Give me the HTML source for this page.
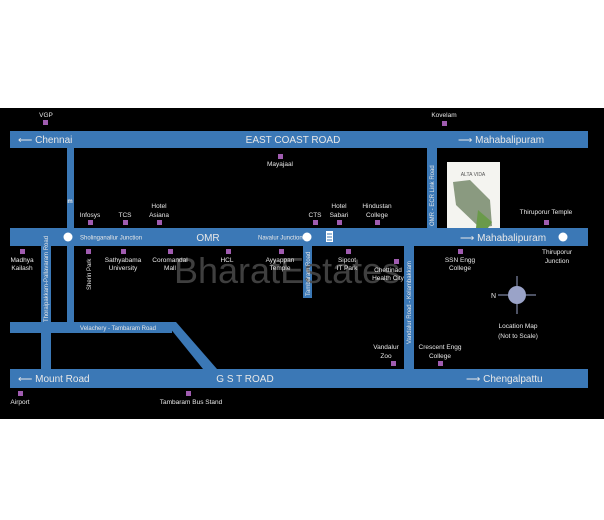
<!DOCTYPE html>
<html><head><meta charset="utf-8"><style>
html,body{margin:0;padding:0;background:#fff;}
svg{display:block;}
text{font-family:"Liberation Sans",sans-serif;fill:#e8e8e8;}
</style></head><body>
<svg width="604" height="520" viewBox="0 0 604 520" xmlns="http://www.w3.org/2000/svg">
<rect x="0" y="0" width="604" height="520" fill="#fff"/>
<rect x="0" y="108" width="604" height="311" fill="#000"/>
<g fill="#3b78b6">
<rect x="10" y="131" width="578" height="17"/>
<rect x="10" y="228" width="578" height="18"/>
<rect x="10" y="369" width="578" height="19"/>
<rect x="67" y="148" width="7" height="174"/>
<rect x="10" y="322" width="162" height="11"/>
<polygon points="165,322 176,322 217,369 203,369"/>
<rect x="41" y="246" width="10" height="123"/>
<rect x="427" y="148" width="10" height="80"/>
<rect x="303" y="246" width="9" height="52"/>
<rect x="404" y="246" width="10" height="123"/>
</g>
<!-- image -->
<rect x="447" y="162" width="53" height="66" fill="#f4f4f0"/>
<text x="473" y="176" font-size="5" text-anchor="middle" fill="#444" style="fill:#555">ALTA VIDA</text>
<polygon points="453,182 470,180 490,200 492,226 480,228 456,205" fill="#8a9a80"/>
<polygon points="478,210 492,222 488,228 476,228" fill="#6a9a4a"/>
<!-- watermark -->
<text x="174" y="283" font-size="36" style="fill:#4a4a4a" opacity="0.85">BharatEstates</text>
<!-- purple squares -->
<g fill="#a05cb0">
<rect x="43" y="120" width="5" height="5"/>
<rect x="278" y="154" width="5" height="5"/>
<rect x="442" y="121" width="5" height="5"/>
<rect x="88" y="220" width="5" height="5"/>
<rect x="123" y="220" width="5" height="5"/>
<rect x="157" y="220" width="5" height="5"/>
<rect x="313" y="220" width="5" height="5"/>
<rect x="337" y="220" width="5" height="5"/>
<rect x="375" y="220" width="5" height="5"/>
<rect x="544" y="220" width="5" height="5"/>
<rect x="20" y="249" width="5" height="5"/>
<rect x="86" y="249" width="5" height="5"/>
<rect x="121" y="249" width="5" height="5"/>
<rect x="168" y="249" width="5" height="5"/>
<rect x="226" y="249" width="5" height="5"/>
<rect x="279" y="249" width="5" height="5"/>
<rect x="346" y="249" width="5" height="5"/>
<rect x="394" y="259" width="5" height="5"/>
<rect x="458" y="249" width="5" height="5"/>
<rect x="391" y="361" width="5" height="5"/>
<rect x="438" y="361" width="5" height="5"/>
<rect x="18" y="391" width="5" height="5"/>
<rect x="186" y="391" width="5" height="5"/>
</g>
<!-- circles -->
<g fill="#fff">
<circle cx="68" cy="237" r="4.5"/>
<circle cx="307" cy="237" r="4.5"/>
<circle cx="563" cy="237" r="4.5"/>
</g>
<rect x="326" y="231" width="7" height="11" fill="#fff"/>
<g stroke="#3b78b6" stroke-width="1"><line x1="327" y1="234" x2="332" y2="234"/><line x1="327" y1="237" x2="332" y2="237"/><line x1="327" y1="240" x2="332" y2="240"/></g>
<text x="70" y="203" font-size="6" font-weight="bold" text-anchor="middle">m</text>
<!-- road labels -->
<text x="18" y="143" font-size="10">⟵ Chennai</text>
<text x="293" y="143" font-size="10" text-anchor="middle">EAST COAST ROAD</text>
<text x="458" y="143" font-size="10">⟶ Mahabalipuram</text>
<text x="80" y="239.5" font-size="6">Sholinganallur Junction</text>
<text x="208" y="241" font-size="10" text-anchor="middle">OMR</text>
<text x="258" y="239.5" font-size="6">Navalur Junction</text>
<text x="460" y="241" font-size="10">⟶ Mahabalipuram</text>
<text x="18" y="382" font-size="10">⟵ Mount Road</text>
<text x="245" y="382" font-size="10" text-anchor="middle">G S T ROAD</text>
<text x="466" y="382" font-size="10">⟶ Chengalpattu</text>
<text x="118" y="330" font-size="6" text-anchor="middle">Velachery - Tambaram Road</text>
<text transform="translate(48,322) rotate(-90)" font-size="6">Thoraipakkam-Pallavaram Road</text>
<text transform="translate(310,296) rotate(-90)" font-size="6">Tambaram Road</text>
<text transform="translate(411,344) rotate(-90)" font-size="6">Vandalur Road - Kelambakkam</text>
<text transform="translate(434,226) rotate(-90)" font-size="6">OMR - ECR Link Road</text>
<text transform="translate(91,290) rotate(-90)" font-size="6">Sherin Park</text>
<!-- place labels -->
<g font-size="6.5" text-anchor="middle">
<text x="46" y="117">VGP</text>
<text x="280" y="166">Mayajaal</text>
<text x="444" y="117">Kovelam</text>
<text x="90" y="217">Infosys</text>
<text x="125" y="217">TCS</text>
<text x="159" y="208">Hotel</text><text x="159" y="217">Asiana</text>
<text x="315" y="217">CTS</text>
<text x="339" y="208">Hotel</text><text x="339" y="217">Sabari</text>
<text x="377" y="208">Hindustan</text><text x="377" y="217">College</text>
<text x="546" y="214">Thiruporur Temple</text>
<text x="22" y="262">Madhya</text><text x="22" y="270">Kailash</text>
<text x="123" y="262">Sathyabama</text><text x="123" y="270">University</text>
<text x="170" y="262">Coromandal</text><text x="170" y="270">Mall</text>
<text x="227" y="262">HCL</text>
<text x="280" y="262">Ayyappan</text><text x="280" y="270">Temple</text>
<text x="347" y="262">Sipcot</text><text x="347" y="270">IT Park</text>
<text x="388" y="272">Chettinad</text><text x="388" y="280">Health City</text>
<text x="460" y="262">SSN Engg</text><text x="460" y="270">College</text>
<text x="557" y="254">Thiruporur</text><text x="557" y="263">Junction</text>
<text x="386" y="349">Vandalur</text><text x="386" y="358">Zoo</text>
<text x="440" y="349">Crescent Engg</text><text x="440" y="358">College</text>
<text x="518" y="328">Location Map</text><text x="518" y="338">(Not to Scale)</text>
<text x="20" y="404">Airport</text>
<text x="191" y="404">Tambaram Bus Stand</text>
</g>
<!-- compass -->
<g stroke="#9aa3c8" stroke-width="1">
<line x1="517" y1="276" x2="517" y2="314"/>
<line x1="498" y1="295" x2="536" y2="295"/>
</g>
<circle cx="517" cy="295" r="9" fill="#9aa3c8"/>
<text x="491" y="298" font-size="7">N</text>
</svg>
</body></html>
